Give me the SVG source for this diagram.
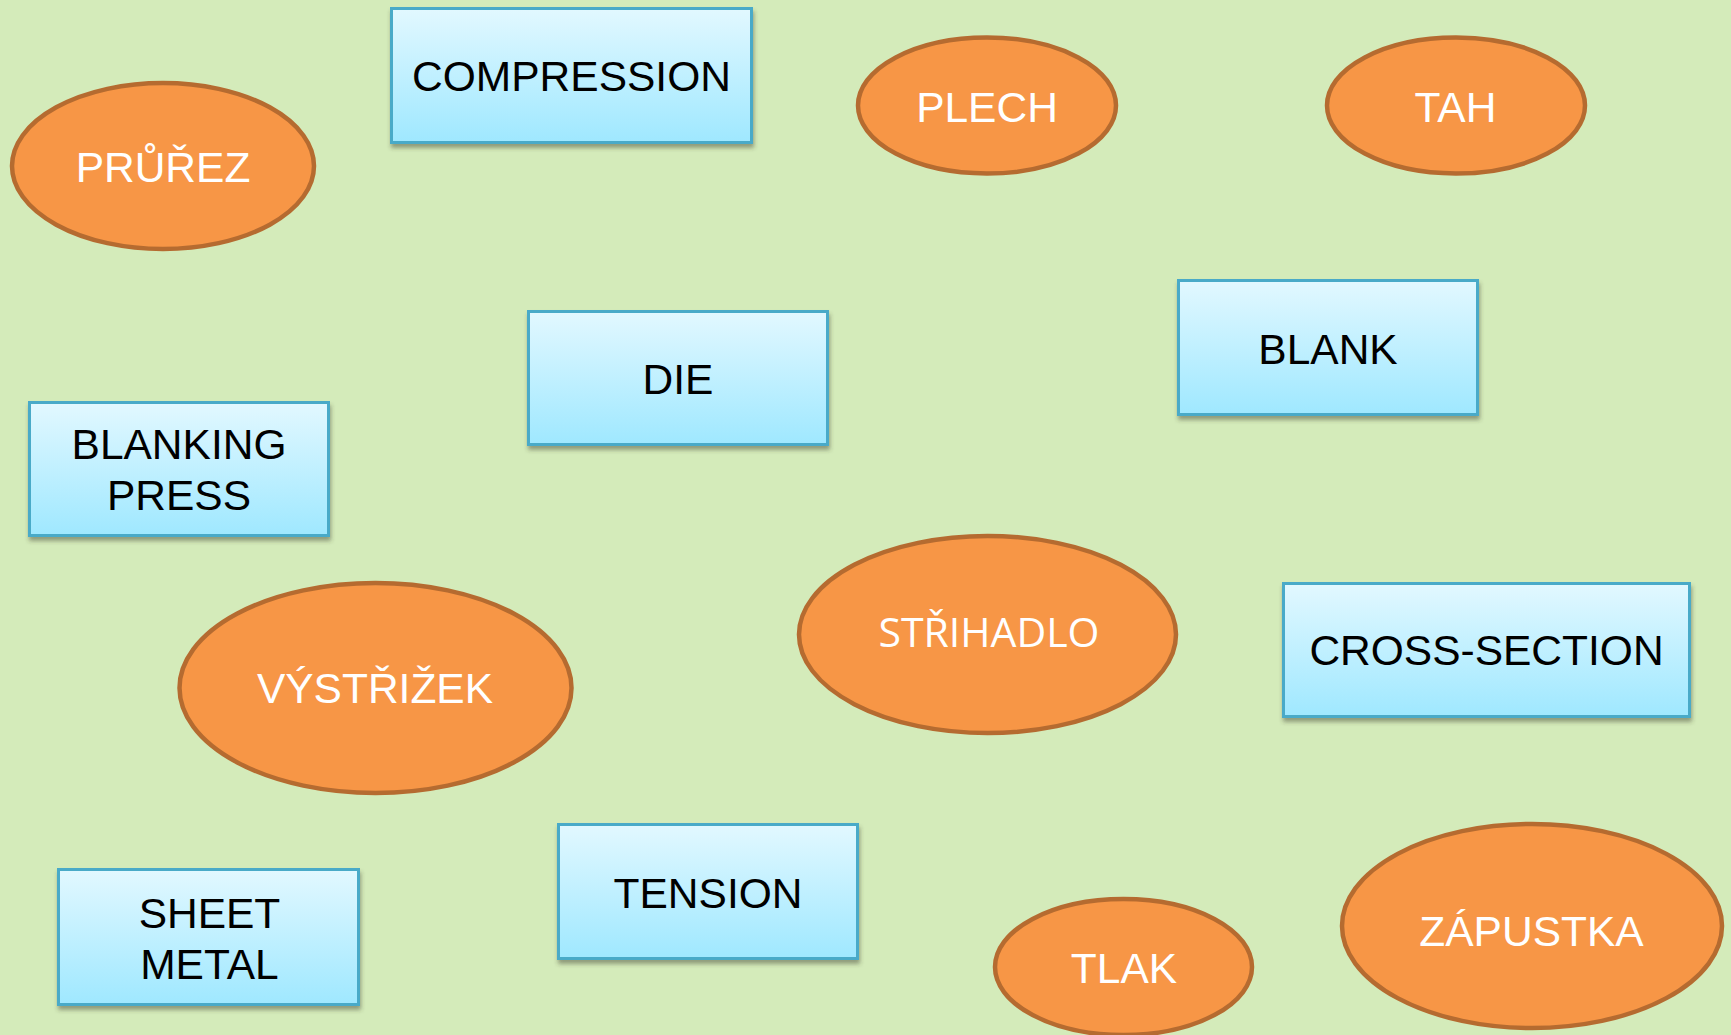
<svg xmlns="http://www.w3.org/2000/svg" width="1731" height="1035" viewBox="0 0 1731 1035">
  <defs>
    <linearGradient id="boxFill" x1="0" y1="0" x2="0" y2="1">
      <stop offset="0" stop-color="#e2f8ff"/>
      <stop offset="1" stop-color="#9fe8ff"/>
    </linearGradient>
    <filter id="boxShadow" x="-10%" y="-10%" width="120%" height="125%">
      <feDropShadow dx="1" dy="4" stdDeviation="2.2" flood-color="#3a3a2a" flood-opacity="0.45"/>
    </filter>
  </defs>
  <style>
    .box { fill: url(#boxFill); stroke: #4aaac8; stroke-width: 3; filter: url(#boxShadow); }
    .oval { fill: #f79646; stroke: #b56b30; stroke-width: 4.5; }
    .boxText { font-family: "Liberation Sans", Arial, sans-serif; font-size: 42.5px; fill: #000; text-anchor: middle; }
    .ovalText { font-family: "Liberation Sans", Arial, sans-serif; font-size: 42.5px; fill: #fff; text-anchor: middle; }
    .ovalTextAlt { font-family: "Open Sans", "Liberation Sans", sans-serif; font-size: 40px; fill: #fff; text-anchor: middle; }
  </style>

  <rect width="1731" height="1035" fill="#d4ebba"/>

  <!-- English terms (boxes) -->
  <g id="compression">
    <rect class="box" x="391.5" y="8.5" width="360" height="134"/>
    <text class="boxText" x="571.5" y="90.5">COMPRESSION</text>
  </g>
  <g id="die">
    <rect class="box" x="528.5" y="311.5" width="299" height="133"/>
    <text class="boxText" x="678" y="393.5">DIE</text>
  </g>
  <g id="blanking-press">
    <rect class="box" x="29.5" y="402.5" width="299" height="133"/>
    <text class="boxText" x="179" y="458.5">BLANKING</text>
    <text class="boxText" x="179" y="509.5">PRESS</text>
  </g>
  <g id="blank">
    <rect class="box" x="1178.5" y="280.5" width="299" height="134"/>
    <text class="boxText" x="1328" y="363.5">BLANK</text>
  </g>
  <g id="cross-section">
    <rect class="box" x="1283.5" y="583.5" width="406" height="133"/>
    <text class="boxText" x="1486.5" y="665">CROSS-SECTION</text>
  </g>
  <g id="sheet-metal">
    <rect class="box" x="58.5" y="869.5" width="300" height="135"/>
    <text class="boxText" x="209.5" y="927.5">SHEET</text>
    <text class="boxText" x="209.5" y="978.5">METAL</text>
  </g>
  <g id="tension">
    <rect class="box" x="558.5" y="824.5" width="299" height="134"/>
    <text class="boxText" x="708" y="907.5">TENSION</text>
  </g>

  <!-- Czech terms (ovals) -->
  <g id="prurez">
    <ellipse class="oval" cx="163" cy="166" rx="151" ry="83"/>
    <text class="ovalText" x="163" y="181.5">PRŮŘEZ</text>
  </g>
  <g id="plech">
    <ellipse class="oval" cx="987" cy="105.5" rx="129" ry="68"/>
    <text class="ovalText" x="987" y="121.5">PLECH</text>
  </g>
  <g id="tah">
    <ellipse class="oval" cx="1456" cy="105.5" rx="129" ry="68"/>
    <text class="ovalText" x="1455.5" y="121.5">TAH</text>
  </g>
  <g id="vystrizek">
    <ellipse class="oval" cx="375.5" cy="688" rx="196" ry="105"/>
    <text class="ovalText" x="375" y="703">VÝSTŘIŽEK</text>
  </g>
  <g id="strihadlo">
    <ellipse class="oval" cx="987.5" cy="634.5" rx="188.5" ry="98.5"/>
    <text class="ovalTextAlt" x="989" y="647" textLength="221" lengthAdjust="spacingAndGlyphs">STŘIHADLO</text>
  </g>
  <g id="tlak">
    <ellipse class="oval" cx="1123.5" cy="967" rx="128.5" ry="68"/>
    <text class="ovalText" x="1124" y="982.5">TLAK</text>
  </g>
  <g id="zapustka">
    <ellipse class="oval" cx="1532" cy="926" rx="190" ry="102"/>
    <text class="ovalText" x="1531.5" y="946">ZÁPUSTKA</text>
  </g>

  <!-- no connectors between terms -->
  <g id="connectors"/>
</svg>
